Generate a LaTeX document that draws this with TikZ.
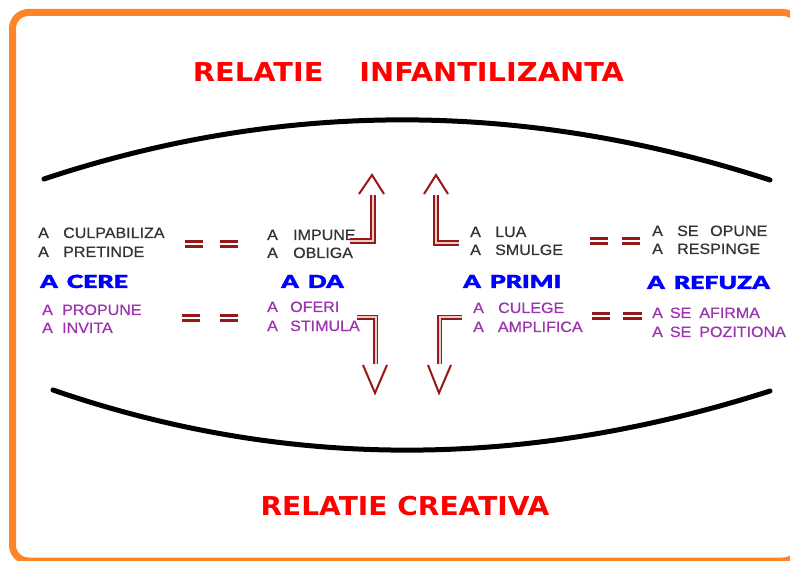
\documentclass[tikz,border=0pt]{standalone}
\usepackage{fontspec}
\setmainfont{Liberation Sans}
\newfontfamily\titlefont[FakeStretch=1.08]{DejaVu Sans Bold}
\newfontfamily\titlefontw[FakeStretch=1.11]{DejaVu Sans Bold}
\newfontfamily\heavyfont[FakeStretch=1.38,FakeBold=1.5]{Lato Black}
\newfontfamily\smallfont[FakeStretch=1.07,FakeBold=0.5]{Liberation Sans}
\definecolor{frameorange}{HTML}{FF8428}
\definecolor{txtgray}{HTML}{333333}
\definecolor{txtpurple}{HTML}{9C34B0}
\definecolor{lblblue}{HTML}{0000FF}
\definecolor{ttlred}{HTML}{FF0000}
\definecolor{arrowred}{HTML}{981818}
\newcommand\myeq[3]{%
  \draw[eqbar] (#1,#3-2.5) -- (#2,#3-2.5);
  \draw[eqbar] (#1,#3+2.5) -- (#2,#3+2.5);}
\tikzset{
  gtxt/.style={anchor=base west, inner sep=0, text=txtgray, font=\smallfont\fontsize{15}{15}\selectfont},
  ptxt/.style={anchor=base west, inner sep=0, text=txtpurple, font=\smallfont\fontsize{15}{15}\selectfont},
  btxt/.style={anchor=base west, inner sep=0, text=lblblue, font=\heavyfont\fontsize{18}{18}\selectfont},
  ttl/.style={anchor=base, inner sep=0, text=ttlred, font=\titlefont\fontsize{26}{26}\selectfont},
  ttlw/.style={ttl, font=\titlefontw\fontsize{26}{26}\selectfont},
  eqbar/.style={draw=arrowred, line width=3pt},
  shaft/.style={draw=arrowred, line width=1.7pt, double=arrowred!22, double distance=2pt, line join=miter},
  vhead/.style={draw=arrowred, line width=2pt, line join=miter},
  curveline/.style={draw=black, line width=5pt, line cap=round},
}
\begin{document}
\begin{tikzpicture}[x=1pt,y=-1pt]
\useasboundingbox (0,0) rectangle (790,561);
\fill[white] (0,0) rectangle (790,561);
\draw[frameorange, line width=7pt, rounded corners=16pt] (12.5,12.5) rectangle (799,561);

% titles
\node[ttlw] (t1) at (408.5,82) {RELATIE\hspace{36pt}INFANTILIZANTA};
\node[ttl] (t2) at (405,515) {RELATIE CREATIVA};

% curves
\coordinate (c1a) at (44,179);
\coordinate (c1b) at (770,180);
\coordinate (c2a) at (53,390);
\coordinate (c2b) at (770,391);
\draw[curveline] (c1a) .. controls (282,100) and (523,100) .. (c1b);
\draw[curveline] (c2a) .. controls (285,470) and (523,470) .. (c2b);

% left group
\node[gtxt] (n1) at (38,238) {A\hspace{14.3pt}CULPABILIZA};
\node[gtxt] (n2) at (38,257) {A\hspace{14.3pt}PRETINDE};
\node[btxt] (n3) at (40,288) {A\hspace{9pt}CERE};
\node[ptxt] (n4) at (42,315) {A\hspace{9.3pt}PROPUNE};
\node[ptxt] (n5) at (42,333) {A\hspace{9.3pt}INVITA};

% second group
\node[gtxt] (m1) at (267,240) {A\hspace{15.3pt}IMPUNE};
\node[gtxt] (m2) at (267,258) {A\hspace{15.3pt}OBLIGA};
\node[btxt] (m3) at (281,288) {A\hspace{9pt}DA};
\node[ptxt] (m4) at (267,312) {A\hspace{12.3pt}OFERI};
\node[ptxt] (m5) at (267,331) {A\hspace{12.3pt}STIMULA};

% third group
\node[gtxt] (k1) at (470,237) {A\hspace{14.3pt}LUA};
\node[gtxt] (k2) at (470,255) {A\hspace{14.3pt}SMULGE};
\node[btxt] (k3) at (463,288) {A\hspace{9pt}PRIMI};
\node[ptxt] (k4) at (473,313) {A\hspace{14.3pt}CULEGE};
\node[ptxt] (k5) at (473,332) {A\hspace{14pt}AMPLIFICA};

% fourth group
\node[gtxt] (r1) at (652,236) {A\hspace{14.3pt}SE\hspace{11.6pt}OPUNE};
\node[gtxt] (r2) at (652,254) {A\hspace{14.3pt}RESPINGE};
\node[btxt] (r3) at (647,289) {A\hspace{9pt}REFUZA};
\node[ptxt] (r4) at (652,318) {A\hspace{7pt}SE\hspace{8pt}AFIRMA};
\node[ptxt] (r5) at (652,337) {A\hspace{7pt}SE\hspace{8pt}POZITIONA};

% equal signs
\myeq{185}{203}{244}
\myeq{220}{238}{244}
\myeq{182}{200}{318}
\myeq{220}{238}{318}
\myeq{590}{608}{241.5}
\myeq{622}{640}{241.5}
\myeq{592}{610}{316.5}
\myeq{623}{642}{316.5}

% arrows
\coordinate (ua1) at (350,241);
\coordinate (ua2) at (373,241);
\coordinate (ua3) at (373,195);
\draw[shaft] (ua1) -- (ua2) -- (ua3);
\coordinate (uaL) at (359,194);
\coordinate (uaT) at (372,175);
\coordinate (uaR) at (384,194);
\draw[vhead] (uaL) -- (uaT) -- (uaR);

\coordinate (ub1) at (459,243);
\coordinate (ub2) at (436,243);
\coordinate (ub3) at (436,195);
\draw[shaft] (ub1) -- (ub2) -- (ub3);
\coordinate (ubL) at (424,194);
\coordinate (ubT) at (436,175);
\coordinate (ubR) at (448,194);
\draw[vhead] (ubL) -- (ubT) -- (ubR);

\coordinate (la1) at (357,317.5);
\coordinate (la2) at (375.5,317.5);
\coordinate (la3) at (375.5,364);
\draw[shaft] (la1) -- (la2) -- (la3);
\coordinate (laL) at (363,365);
\coordinate (laT) at (375,393);
\coordinate (laR) at (387,365);
\draw[vhead] (laL) -- (laT) -- (laR);

\coordinate (lb1) at (462,317.5);
\coordinate (lb2) at (439.5,317.5);
\coordinate (lb3) at (439.5,364);
\draw[shaft] (lb1) -- (lb2) -- (lb3);
\coordinate (lbL) at (428,365);
\coordinate (lbT) at (439,393);
\coordinate (lbR) at (451,365);
\draw[vhead] (lbL) -- (lbT) -- (lbR);
\end{tikzpicture}
\end{document}
